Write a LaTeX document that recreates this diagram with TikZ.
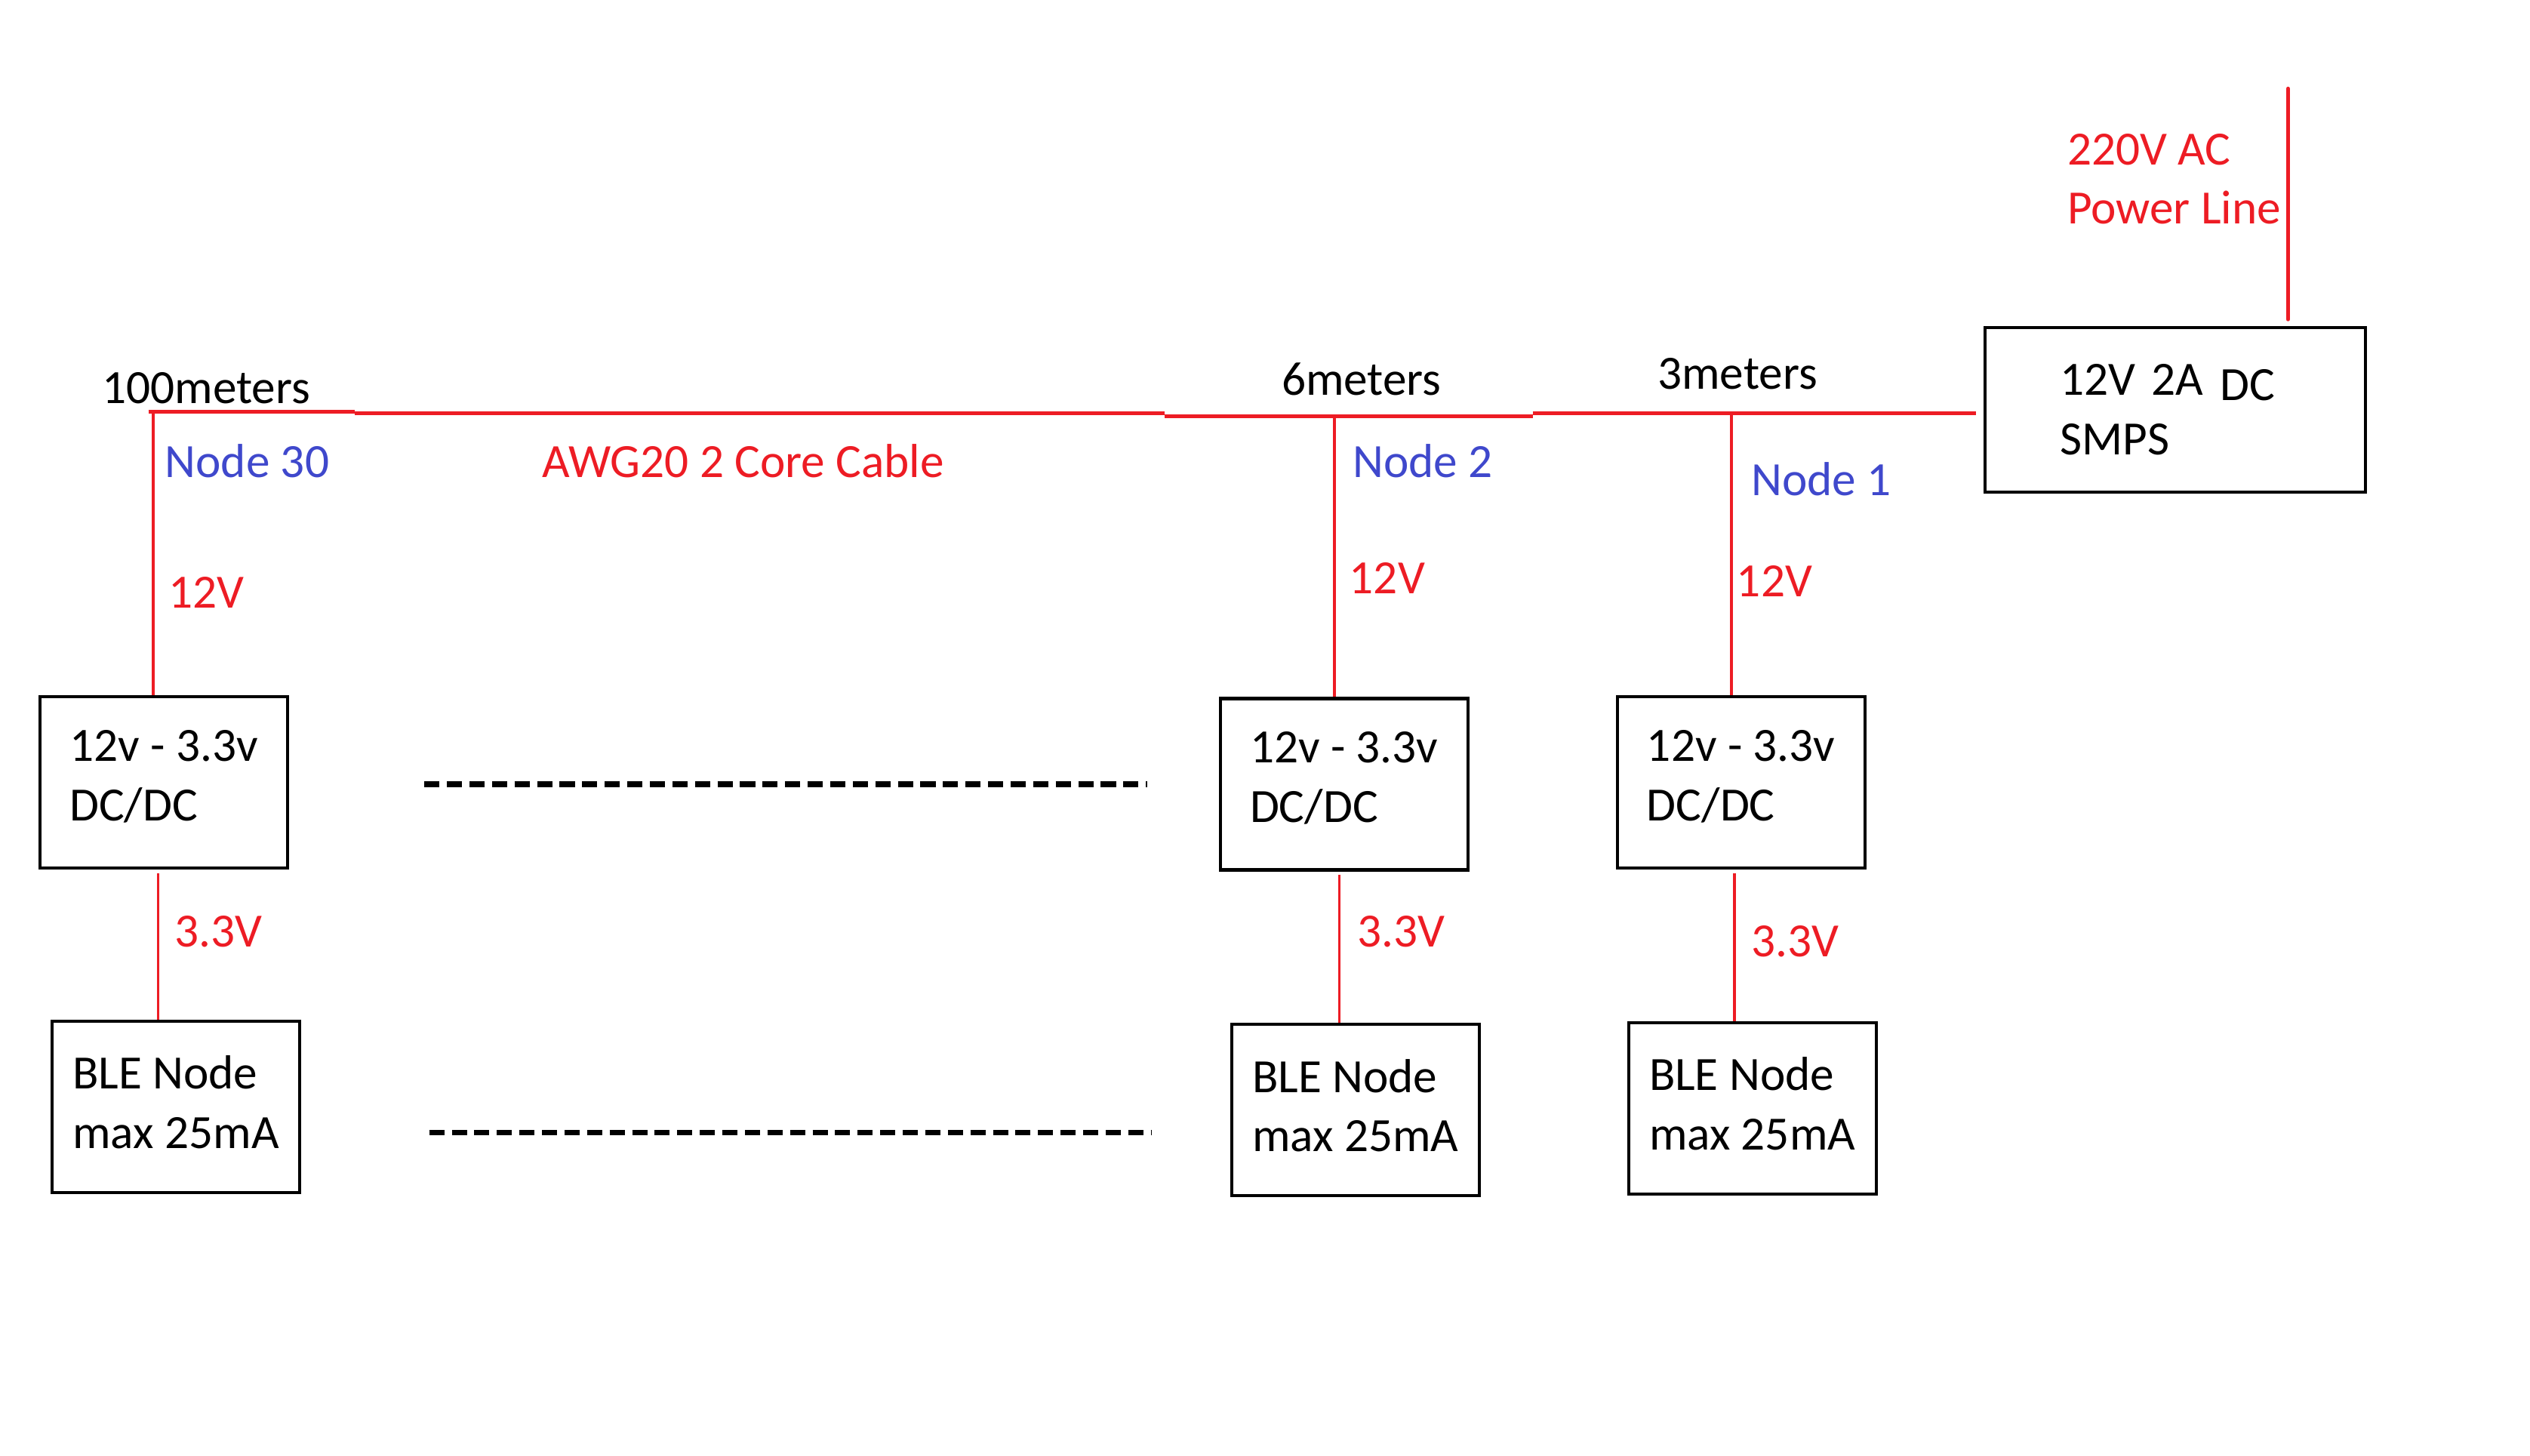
\documentclass[tikz,border=0pt]{standalone}
\usepackage{fontspec}
\setmainfont{Carlito}
\definecolor{wire}{HTML}{ED1C24}
\definecolor{tag}{HTML}{3F48CC}
\tikzset{
  box/.style={draw, line width=1.2pt, minimum width=3.28cm, minimum height=2.27cm, inner sep=0pt, align=left},
  convbox/.style={box, text depth=5.5pt},
  blebox/.style={box, text depth=3.6pt},
  smpsbox/.style={draw, line width=1.2pt, minimum height=2.18cm, text width=3.04cm, inner xsep=1cm, inner ysep=0pt, align=left},
  bus/.style={wire, line width=1.4pt},
  drop/.style={wire, line width=1pt},
  mains/.style={wire, line width=1.6pt, line cap=round},
  more/.style={line width=2.1pt, dash pattern=on 5.7pt off 2.8pt},
  dist/.style={anchor=base west, inner sep=0pt},
  volt/.style={wire, anchor=base west, inner sep=0pt},
  nodetag/.style={tag, anchor=base west, inner sep=0pt}
}
\begin{document}
\begin{tikzpicture}[x=0.021378cm, y=-0.021378cm, font=\fontsize{18}{22.4}\selectfont]
\useasboundingbox (0,0) rectangle (1568,902);

\node[smpsbox] (smps) at (1348,254) {12V 2A\hspace{0.35em}\raisebox{-2pt}{DC}\\SMPS};
\node[convbox] (conv30) at (101.5,485) {12v - 3.3v\\DC/DC};
\node[convbox] (conv2) at (833,486) {12v - 3.3v\\DC/DC};
\node[convbox] (conv1) at (1079,485) {12v - 3.3v\\DC/DC};
\node[blebox] (ble30) at (109,686) {BLE Node\\max 25mA};
\node[blebox] (ble2) at (840,688) {BLE Node\\max 25mA};
\node[blebox] (ble1) at (1086,687) {BLE Node\\max 25mA};

\coordinate (far) at (92,255);
\coordinate (tap30) at (95,254);
\coordinate (tap2) at (827,257);
\coordinate (tap1) at (1073,255);
\coordinate (out30) at (98,541);
\coordinate (out2) at (830,542);
\coordinate (out1) at (1075,541);
\coordinate (mainsin) at (1418,55);

\draw[bus] (far) -- (220,255) (220,256) -- (722,256) (722,258) -- (950,258) (950,256) -- ([xshift=-0.1cm]smps.west |- 0,256);
\draw[mains] (mainsin) -- ([yshift=0.09cm]mainsin |- smps.north);
\draw[drop] (tap30) -- (tap30 |- conv30.north);
\draw[drop] (tap2) -- (tap2 |- conv2.north);
\draw[drop] (tap1) -- (tap1 |- conv1.north);
\draw[drop] (out30) -- (out30 |- ble30.north);
\draw[drop] (out2) -- (out2 |- ble2.north);
\draw[drop] (out1) -- (out1 |- ble1.north);

\draw[more] (263,486) -- (711,486);
\draw[more] (266,702) -- (714,702);

\node[dist] (d100) at (63,250) {100meters};
\node[dist] (d6) at (794,245) {6meters};
\node[dist] (d3) at (1027,241) {3meters};
\node[nodetag] (n30) at (102,296) {Node 30};
\node[nodetag] (n2) at (838,296) {Node 2};
\node[nodetag] (n1) at (1085,307) {Node 1};
\node[volt] (cable) at (336,296) {AWG20 2 Core Cable};
\node[volt] (v30) at (104,377) {12V};
\node[volt] (v2) at (836,368) {12V};
\node[volt] (v1) at (1076,370) {12V};
\node[volt] (w30) at (108,587) {3.3V};
\node[volt] (w2) at (841,587) {3.3V};
\node[volt] (w1) at (1085,593) {3.3V};
\node[wire, anchor=west, inner sep=0pt, align=left] (ac) at (1281,111) {220V AC\\Power Line};
\end{tikzpicture}
\end{document}
